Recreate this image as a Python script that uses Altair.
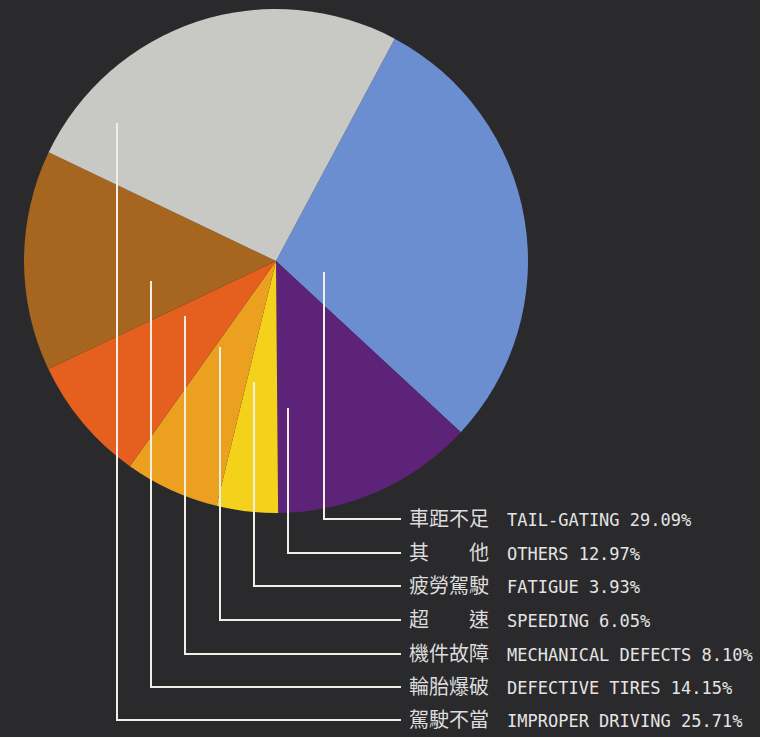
import math
import altair as alt
import pandas as pd

# ---- data ----
zh_labels = ["車距不足", "其　　他", "疲勞駕駛", "超　　速", "機件故障", "輪胎爆破", "駕駛不當"]
en_labels = ["TAIL-GATING", "OTHERS", "FATIGUE", "SPEEDING", "MECHANICAL DEFECTS",
             "DEFECTIVE TIRES", "IMPROPER DRIVING"]
percents = [29.09, 12.97, 3.93, 6.05, 8.10, 14.15, 25.71]
slice_colors = ["#6a8ed0", "#5c2378", "#f4d21c", "#eca020", "#e55f1f", "#a6661f", "#c8c8c5"]

# leader-line anchors (chart pixel space)
leader_x = [324, 288, 254, 220, 185, 151, 117]
leader_top = [273, 409, 383, 348, 317, 282, 124]
row_y = [519, 553, 586, 620, 654, 687, 720]

start_angle = math.radians(28.1)

df = pd.DataFrame({
    "zh": zh_labels,
    "en": en_labels,
    "pct": percents,
    "order": list(range(len(percents))),
    "lx": leader_x,
    "top": leader_top,
    "row": row_y,
})
df["en_text"] = [f"{e} {p:.2f}%" for e, p in zip(en_labels, percents)]

W, H = 760, 737
xs = alt.Scale(domain=[0, W], nice=False, zero=False)
ys = alt.Scale(domain=[0, H], nice=False, zero=False, reverse=True)

base = alt.Chart(df)

pie = base.mark_arc(outerRadius=252, stroke=None).encode(
    theta=alt.Theta("pct:Q", stack=True,
                    scale=alt.Scale(range=[start_angle, start_angle + 2 * math.pi])),
    color=alt.Color("en:N", scale=alt.Scale(domain=en_labels, range=slice_colors), legend=None),
    order=alt.Order("order:Q"),
    x=alt.value(276),
    y=alt.value(261),
)

line_color = "#f1eee6"

vert = base.mark_rule(color=line_color, strokeWidth=2, strokeCap="square").encode(
    x=alt.X("lx:Q", scale=xs, axis=None),
    y=alt.Y("top:Q", scale=ys, axis=None),
    y2="row:Q",
)

horiz = base.mark_rule(color=line_color, strokeWidth=2, strokeCap="square").encode(
    x=alt.X("lx:Q", scale=xs, axis=None),
    x2=alt.value(400),
    y=alt.Y("row:Q", scale=ys, axis=None),
)

zh_text = base.mark_text(
    align="left", baseline="middle", font="Noto Sans CJK TC", fontSize=20,
    color="#dcdcdc", dy=1,
).encode(
    x=alt.value(409),
    y=alt.Y("row:Q", scale=ys, axis=None),
    text="zh:N",
)

en_text = base.mark_text(
    align="left", baseline="middle", font="DejaVu Sans Mono", fontSize=17,
    color="#e4e4e4", dy=2,
).encode(
    x=alt.value(507),
    y=alt.Y("row:Q", scale=ys, axis=None),
    text="en_text:N",
)

chart = alt.layer(pie, vert, horiz, zh_text, en_text).properties(
    width=W, height=H, padding=0, autosize=alt.AutoSizeParams(type="none"),
    background="#2a292b",
).configure_view(stroke=None)

chart.save("out.html", embed_options={"renderer": "svg", "actions": False})
